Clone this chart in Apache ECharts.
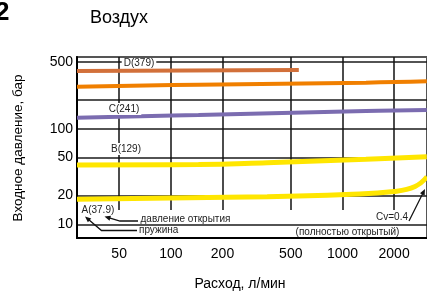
<!DOCTYPE html>
<html><head><meta charset="utf-8">
<script src="https://cdn.jsdelivr.net/npm/echarts@6/dist/echarts.min.js"></script>
<style>html,body{margin:0;padding:0;background:#fff}#c{width:427px;height:293px}</style>
</head><body><div id="c"></div>
<script>
// tick labels
const xTicks = [50, 100, 200, 500, 1000, 2000];
const yGrid = [10, 20, 50, 100, 200, 500];
const yLabels = [10, 20, 50, 100, 500];
// series: flow (л/мин) and inlet pressure (бар)
const flowD = [28.4, 557];
const pressD = [405, 415];
const flowOrange = [28.4, 145, 1370, 3100];
const pressOrange = [277, 291, 305, 315];
const flowPurple = [28.4, 145, 1370, 3100];
const pressPurple = [131, 140, 154, 158];
const flowYellowB = [28.4, 145, 364, 1370, 3100];
const pressYellowB = [41.9, 42.4, 44.3, 48.0, 51.2];
const flowYellowA = [28.4, 364, 1050, 2000, 2650, 3109];
const pressYellowA = [18.3, 19.5, 20.6, 22.1, 24.9, 31.5];
// annotation texts
const labelD = 'D(379)', labelC = 'C(241)', labelB = 'B(129)', labelA = 'A(37.9)';

const xMin = 28.4, xMax = 3109, yMin = 7.19, yMax = 567, vGridBottom = 14.1;
const FONT = '"Liberation Sans", Arial, sans-serif';
const pairs = (xs, ys) => xs.map((x, i) => [x, ys[i]]);

const chart = echarts.init(document.getElementById('c'), null, {renderer: 'canvas'});

function arrow(pts, color) {
  const n = pts.length, t = pts[n - 1], p = pts[n - 2];
  const dx = t[0] - p[0], dy = t[1] - p[1], L = Math.hypot(dx, dy);
  const ux = dx / L, uy = dy / L, len = 6, w = 2.6;
  const bx = t[0] - ux * len, by = t[1] - uy * len;
  return [
    {type: 'polyline', shape: {points: pts.slice(0, n - 1).concat([[bx + ux, by + uy]])}, style: {stroke: color, lineWidth: 1.3, fill: null}, z: 100},
    {type: 'polygon', shape: {points: [t, [bx - uy * w, by + ux * w], [bx + uy * w, by - ux * w]]}, style: {fill: color}, z: 100}
  ];
}
function txt(text, x, y, opts) {
  return Object.assign({type: 'text', x: x, y: y, z: 100,
    style: Object.assign({text: text, font: '10px ' + FONT, fill: '#222', textAlign: 'center', textVerticalAlign: 'middle'}, opts || {})});
}

const graphics = [
  {type: 'text', x: -5, y: 13, z: 100, style: {text: '2', font: 'bold 26px ' + FONT, fill: '#000', textAlign: 'left', textVerticalAlign: 'middle'}},
  {type: 'text', x: 119, y: 18, z: 100, style: {text: 'Воздух', font: '18px ' + FONT, fill: '#000', textAlign: 'center', textVerticalAlign: 'middle'}},
  {type: 'text', x: 18, y: 148, rotation: Math.PI / 2, z: 100, style: {text: 'Входное давление, бар', font: '13.5px ' + FONT, fill: '#000', textAlign: 'center', textVerticalAlign: 'middle'}},
  {type: 'text', x: 240, y: 284, z: 100, style: {text: 'Расход, л/мин', font: '14px ' + FONT, fill: '#000', textAlign: 'center', textVerticalAlign: 'middle'}},
  txt(labelD, 139, 63, {backgroundColor: '#fff', padding: [0, 2]}),
  txt(labelC, 124, 109, {backgroundColor: '#fff', padding: [1, 2]}),
  txt(labelB, 126, 149, {backgroundColor: '#fff', padding: [1, 2]}),
  txt(labelA, 81.5, 210, {textAlign: 'left'}),
  txt('давление открытия', 140.5, 219, {textAlign: 'left'}),
  txt('пружина', 139, 230.5, {textAlign: 'left'}),
  txt('Cv=0.4', 392, 217),
  txt('(полностью открытый)', 347.5, 232)
].concat(
  arrow([[138, 221], [120, 221], [104.5, 216.5]], '#111'),
  arrow([[137, 230.5], [101.5, 230.5], [85, 216.5]], '#111'),
  arrow([[409, 221], [425, 189]], '#111')
);

const lineBase = {type: 'line', showSymbol: false, symbol: 'none', smooth: 0.45, silent: true, animation: false};

chart.setOption({
  animation: false,
  backgroundColor: '#fff',
  grid: {left: 77, top: 57, right: -5, bottom: 55, show: true, borderColor: '#555', borderWidth: 2, backgroundColor: 'transparent'},
  xAxis: {
    type: 'log', min: xMin, max: xMax,
    axisLine: {show: true, lineStyle: {color: '#000', width: 2}},
    axisTick: {show: false, customValues: xTicks},
    axisLabel: {customValues: xTicks, fontSize: 14, color: '#000', fontFamily: FONT, margin: 9, formatter: v => String(Math.round(v))},
    splitLine: {show: false},
    minorSplitLine: {show: false}
  },
  yAxis: {
    type: 'log', min: yMin, max: yMax,
    axisLine: {show: true, lineStyle: {color: '#000', width: 2}},
    axisTick: {show: false, customValues: yGrid},
    axisLabel: {customValues: yLabels, fontSize: 14, color: '#000', fontFamily: FONT, margin: 4, formatter: v => String(Math.round(v))},
    splitLine: {show: true, lineStyle: {color: '#1a1a1a', width: 1.5}},
    minorSplitLine: {show: false}
  },
  graphic: graphics,
  series: [
    Object.assign({}, lineBase, {
      name: 'A', data: pairs(flowYellowA, pressYellowA), lineStyle: {color: '#FFE600', width: 5}, z: 3,
      markLine: {silent: true, z: 1, symbol: ['none', 'none'], animation: false, label: {show: false},
        lineStyle: {color: '#111', width: 1.5, type: 'solid'},
        emphasis: {disabled: true},
        data: xTicks.map(v => [{coord: [v, yMax]}, {coord: [v, vGridBottom]}])}
    }),
    Object.assign({}, lineBase, {name: 'B', data: pairs(flowYellowB, pressYellowB), lineStyle: {color: '#FFE600', width: 5}, z: 3}),
    Object.assign({}, lineBase, {name: 'C', data: pairs(flowPurple, pressPurple), lineStyle: {color: '#7B6CB0', width: 4}, z: 3}),
    Object.assign({}, lineBase, {name: 'O', data: pairs(flowOrange, pressOrange), lineStyle: {color: '#F07F00', width: 4}, z: 3}),
    Object.assign({}, lineBase, {name: 'D', data: pairs(flowD, pressD), lineStyle: {color: '#D2703A', width: 4}, z: 3})
  ]
});
</script></body></html>
